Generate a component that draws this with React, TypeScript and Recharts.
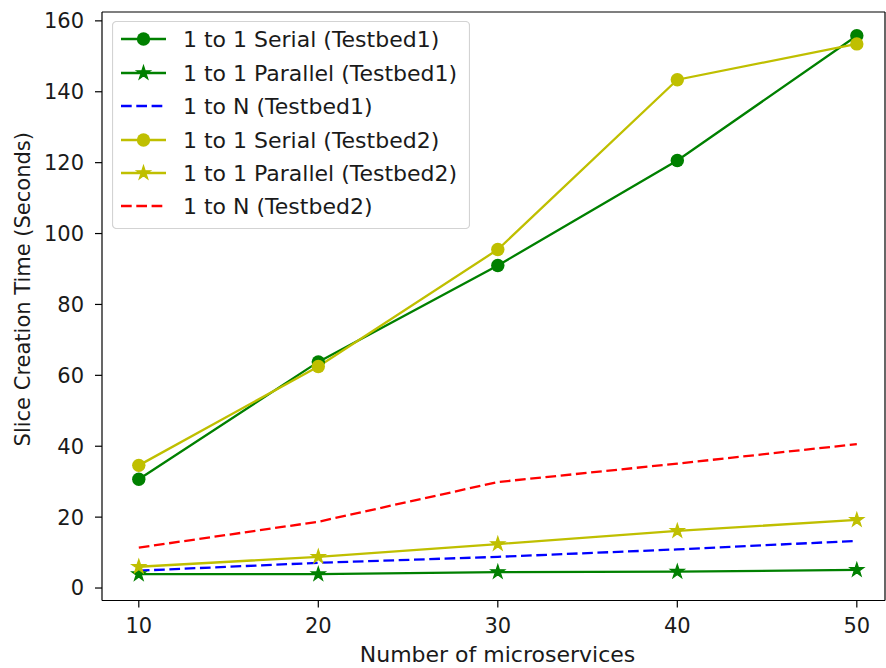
import React from 'react';
import { LineChart, Line, XAxis, YAxis, ReferenceLine, Legend, Label } from 'recharts';

const xValues = [10, 20, 30, 40, 50];
const serialT1 = [30.7, 63.8, 91.0, 120.6, 155.8];
const parallelT1 = [3.9, 3.9, 4.5, 4.6, 5.1];
const oneToNT1 = [4.9, 7.1, 8.8, 10.9, 13.3];
const serialT2 = [34.6, 62.5, 95.5, 143.4, 153.5];
const parallelT2 = [6.0, 8.8, 12.4, 16.1, 19.2];
const oneToNT2 = [11.4, 18.7, 29.9, 35.1, 40.6];
const xTicks = [10, 20, 30, 40, 50];
const yTicks = [0, 20, 40, 60, 80, 100, 120, 140, 160];

const GREEN = '#008000';
const YELLOW = '#bfbf00';
const BLUE = '#0000ff';
const RED = '#ff0000';
const FONT = '"DejaVu Sans", sans-serif';
const FS = 21;
const FS_LABEL = 22;
const TXT = '#1a1a1a';

type Series = { key: string; name: string; values: number[]; color: string; marker: 'circle' | 'star' | 'none'; dashed: boolean };

const series: Series[] = [
  { key: 's1', name: '1 to 1 Serial (Testbed1)', values: serialT1, color: GREEN, marker: 'circle', dashed: false },
  { key: 'p1', name: '1 to 1 Parallel (Testbed1)', values: parallelT1, color: GREEN, marker: 'star', dashed: false },
  { key: 'n1', name: '1 to N (Testbed1)', values: oneToNT1, color: BLUE, marker: 'none', dashed: true },
  { key: 's2', name: '1 to 1 Serial (Testbed2)', values: serialT2, color: YELLOW, marker: 'circle', dashed: false },
  { key: 'p2', name: '1 to 1 Parallel (Testbed2)', values: parallelT2, color: YELLOW, marker: 'star', dashed: false },
  { key: 'n2', name: '1 to N (Testbed2)', values: oneToNT2, color: RED, marker: 'none', dashed: true },
];

const data = xValues.map((x, i) => {
  const row: Record<string, number> = { x };
  series.forEach((s) => {
    row[s.key] = s.values[i];
  });
  return row;
});

const X_DOMAIN: [number, number] = [7.95, 51.57];
const Y_DOMAIN: [number, number] = [-3.52, 162.5];
const DASH = '10.7 4.6';
const LW = 2.3;

function starPath(cx: number, cy: number, R: number) {
  const r = R * 0.381966;
  let d = '';
  for (let k = 0; k < 10; k++) {
    const ang = -Math.PI / 2 + (k * Math.PI) / 5;
    const rad = k % 2 === 0 ? R : r;
    d += (k === 0 ? 'M' : 'L') + (cx + rad * Math.cos(ang)).toFixed(2) + ',' + (cy + rad * Math.sin(ang)).toFixed(2);
  }
  return d + 'Z';
}

function Marker({ s, cx, cy }: { s: Series; cx: number; cy: number }) {
  if (s.marker === 'circle') return <circle cx={cx} cy={cy} r={6.7} fill={s.color} />;
  if (s.marker === 'star')
    return <path d={starPath(cx, cy, 7.3)} fill={s.color} stroke={s.color} strokeWidth={1.2} strokeLinejoin="miter" />;
  return null;
}

const makeDot = (s: Series) => (props: any) => {
  const { cx, cy, index } = props;
  if (cx == null || cy == null) return <g key={`d-${s.key}-${index}`} />;
  return (
    <g key={`d-${s.key}-${index}`}>
      <Marker s={s} cx={cx} cy={cy} />
    </g>
  );
};

const LegendBox = () => {
  const rowsY = [18, 52, 85, 119, 152, 185];
  return (
    <svg width={358} height={208} style={{ display: 'block' }}>
      <rect x={0.5} y={0.5} width={357} height={207} rx={4} ry={4} fill="#ffffff" fillOpacity={0.8} stroke="#d3d3d3" strokeWidth={1.2} />
      {series.map((s, i) => (
        <g key={s.key}>
          <line x1={9} x2={54} y1={rowsY[i]} y2={rowsY[i]} stroke={s.color} strokeWidth={LW} strokeDasharray={s.dashed ? DASH : undefined} />
          <Marker s={s} cx={31.5} cy={rowsY[i]} />
          <text x={71} y={rowsY[i]} dy="0.36em" fontFamily={FONT} fontSize={FS_LABEL} fill={TXT}>
            {s.name}
          </text>
        </g>
      ))}
    </svg>
  );
};

export default function App() {
  return (
    <div style={{ position: 'absolute', left: 0, top: 0, width: 886, height: 668, background: '#fff' }}>
      <LineChart width={886} height={668} data={data} margin={{ top: 12, right: 1, bottom: 27.5, left: 0 }}>
        <XAxis
          dataKey="x"
          type="number"
          domain={X_DOMAIN}
          ticks={xTicks}
          allowDataOverflow
          height={40}
          tickSize={7}
          tickMargin={10.5}
          axisLine={{ stroke: '#000', strokeWidth: 1.2 }}
          tickLine={{ stroke: '#000', strokeWidth: 1.2 }}
          tick={{ fill: TXT, fontSize: FS, fontFamily: FONT }}
        >
          <Label value="Number of microservices" position="bottom" offset={6} dx={4} style={{ fill: TXT, fontSize: FS_LABEL, fontFamily: FONT }} />
        </XAxis>
        <YAxis
          type="number"
          domain={Y_DOMAIN}
          ticks={yTicks}
          allowDataOverflow
          width={102}
          tickSize={7}
          tickMargin={11}
          axisLine={{ stroke: '#000', strokeWidth: 1.2 }}
          tickLine={{ stroke: '#000', strokeWidth: 1.2 }}
          tick={{ fill: TXT, fontSize: FS, fontFamily: FONT }}
        >
          <Label
            value="Slice Creation Time (Seconds)"
            angle={-90}
            position="insideLeft"
            offset={23}
            dy={-17}
            style={{ fill: TXT, fontSize: FS, fontFamily: FONT, textAnchor: 'middle' }}
          />
        </YAxis>
        <ReferenceLine y={Y_DOMAIN[1]} stroke="#000" strokeWidth={1.2} ifOverflow="visible" />
        <ReferenceLine x={X_DOMAIN[1]} stroke="#000" strokeWidth={1.2} ifOverflow="visible" />
        {series.map((s) => (
          <Line
            key={s.key}
            dataKey={s.key}
            name={s.name}
            type="linear"
            stroke={s.color}
            strokeWidth={LW}
            strokeDasharray={s.dashed ? DASH : undefined}
            dot={s.marker === 'none' ? false : makeDot(s)}
            activeDot={false}
            isAnimationActive={false}
          />
        ))}
        <Legend
          layout="horizontal"
          verticalAlign="middle"
          align="center"
          content={() => <LegendBox />}
          wrapperStyle={{ position: 'absolute', left: 112, top: 21, width: 358, height: 208 }}
        />
      </LineChart>
    </div>
  );
}
